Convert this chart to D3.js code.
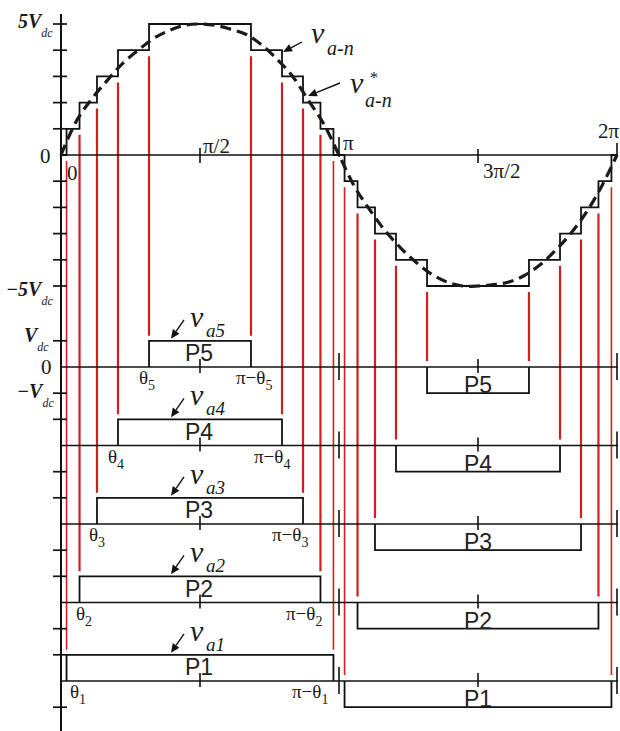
<!DOCTYPE html>
<html>
<head>
<meta charset="utf-8">
<script src="https://cdn.jsdelivr.net/npm/d3@7"></script>
<style>
  body { margin: 0; background: #fff; }
  svg { display: block; }
  .serif { font-family: "Liberation Serif", "Times New Roman", serif; }
  .sans { font-family: "Liberation Sans", Arial, sans-serif; }
</style>
</head>
<body>
<svg id="chart" width="620" height="731"></svg>
<script>
// ---- data -------------------------------------------------------------
// H-bridge cells of the 11-level cascaded inverter (P1 ... P5)
const cells = [1, 2, 3, 4, 5];
// switching angle of each cell, degrees
const thetaDeg = [3.6, 12.0, 23.3, 36.9, 57.0];
// staircase level reached when each cell switches on, in Vdc
const stepLevels = [1, 2, 3, 4, 5];
// reference phase voltage v*a-n, sampled every 10 degrees, in Vdc
const refAngleDeg = [0, 10, 20, 30, 40, 50, 60, 70, 80, 90, 100, 110, 120,
  130, 140, 150, 160, 170, 180, 190, 200, 210, 220, 230, 240, 250, 260, 270,
  280, 290, 300, 310, 320, 330, 340, 350, 360];
const refValue = [0, 1.3, 2.15, 2.85, 3.5, 4.0, 4.45, 4.75, 4.95, 5.0, 4.95,
  4.8, 4.6, 4.2, 3.65, 3.0, 2.1, 1.2, 0, -1.2, -2.1, -2.9, -3.55, -4.1, -4.55,
  -4.85, -5.0, -5.0, -4.95, -4.85, -4.6, -4.2, -3.65, -3.0, -2.2, -1.2, 0];
// phase axis ticks
const phaseTickDeg = [90, 180, 270, 360];
const phaseTickLabel = ["π/2", "π", "3π/2", "2π"];

// ---- layout -----------------------------------------------------------
const svg = d3.select("#chart");
const W = 620, H = 731;
const axisX = 61;
const x = d3.scaleLinear().domain([0, 360]).range([axisX, 617]);
const unit = 26.2;                      // pixels per Vdc
const yMain = d3.scaleLinear().domain([-5, 5]).range([155 + 5 * unit, 155 - 5 * unit]);
// baseline of each cell's pulse row, P5 on top
const rowZero = k => 367 + (5 - k) * 78.5;
const yRow = k => d3.scaleLinear().domain([-1, 1]).range([rowZero(k) + unit, rowZero(k) - unit]);

const RED = "#d11f1f";
const INK = "#111";

const gRed = svg.append("g");
const gInk = svg.append("g");
const gTxt = svg.append("g");

// ---- red switching-instant guides --------------------------------------
cells.forEach((k, i) => {
  const th = thetaDeg[i];
  const lv = stepLevels[i];
  const yr = yRow(k);
  // positive half cycle: from the staircase step down to the top of the pulse
  [th, 180 - th].forEach(a => {
    gRed.append("line")
      .attr("x1", x(a)).attr("x2", x(a))
      .attr("y1", yMain(lv - 1) + 6).attr("y2", yr(1) - 5)
      .attr("stroke", RED).attr("stroke-width", i === 0 ? 1.6 : 2.2);
  });
  // negative half cycle: from the staircase step down to the row baseline
  [180 + th, 360 - th].forEach(a => {
    gRed.append("line")
      .attr("x1", x(a)).attr("x2", x(a))
      .attr("y1", yMain(-lv) + 6).attr("y2", yr(0) - 6)
      .attr("stroke", RED).attr("stroke-width", i === 0 ? 1.6 : 2.2);
  });
});

// ---- axes ---------------------------------------------------------------
// vertical axis
gInk.append("line")
  .attr("x1", axisX).attr("x2", axisX).attr("y1", 14).attr("y2", H)
  .attr("stroke", INK).attr("stroke-width", 2);

// main phase axis
gInk.append("line")
  .attr("x1", axisX).attr("x2", x(360) + 1).attr("y1", yMain(0)).attr("y2", yMain(0))
  .attr("stroke", INK).attr("stroke-width", 1.7);
const mainTickExt = { 90: [-7, 8], 180: [-18, 2], 270: [-6, 8], 360: [-12, 2] };
phaseTickDeg.forEach(a => {
  const e = mainTickExt[a];
  gInk.append("line")
    .attr("x1", x(a)).attr("x2", x(a))
    .attr("y1", yMain(0) + e[0]).attr("y2", yMain(0) + e[1])
    .attr("stroke", INK).attr("stroke-width", 1.6);
});
// level ticks of the phase voltage
d3.range(-5, 6).filter(v => v !== 0).forEach(v => {
  gInk.append("line")
    .attr("x1", 53).attr("x2", 67).attr("y1", yMain(v)).attr("y2", yMain(v))
    .attr("stroke", INK).attr("stroke-width", 1.7);
});

// rows of the individual cells
cells.forEach(k => {
  const yr = yRow(k);
  gInk.append("line")
    .attr("x1", axisX).attr("x2", x(360) + 1).attr("y1", yr(0)).attr("y2", yr(0))
    .attr("stroke", INK).attr("stroke-width", 1.7);
  [1, -1].forEach(v => {
    gInk.append("line")
      .attr("x1", 53).attr("x2", 67).attr("y1", yr(v)).attr("y2", yr(v))
      .attr("stroke", INK).attr("stroke-width", 1.7);
  });
  phaseTickDeg.forEach(a => {
    const tall = (a === 180 || a === 360);
    gInk.append("line")
      .attr("x1", x(a)).attr("x2", x(a))
      .attr("y1", yr(0) - (tall ? 14 : 8)).attr("y2", yr(0) + (tall ? 13 : 6))
      .attr("stroke", INK).attr("stroke-width", 1.6);
  });
});

// ---- waveforms --------------------------------------------------------
// staircase output v a-n built from the switching angles
const stairPts = [[0, 0]];
cells.forEach((k, i) => stairPts.push([thetaDeg[i], stepLevels[i]]));
for (let i = cells.length - 1; i >= 0; i--) stairPts.push([180 - thetaDeg[i], stepLevels[i] - 1]);
cells.forEach((k, i) => stairPts.push([180 + thetaDeg[i], -stepLevels[i]]));
for (let i = cells.length - 1; i >= 0; i--) stairPts.push([360 - thetaDeg[i], -(stepLevels[i] - 1)]);
stairPts.push([360, 0]);

gInk.append("path")
  .datum(stairPts)
  .attr("d", d3.line().x(d => x(d[0])).y(d => yMain(d[1])).curve(d3.curveStepAfter))
  .attr("fill", "none").attr("stroke", INK).attr("stroke-width", 1.8);

// reference sinusoid, dashed
gInk.append("path")
  .datum(refAngleDeg.map((a, i) => [a, refValue[i]]))
  .attr("d", d3.line().x(d => x(d[0])).y(d => yMain(d[1])).curve(d3.curveCatmullRom))
  .attr("fill", "none").attr("stroke", "#1a1a1a").attr("stroke-width", 3.2)
  .attr("stroke-dasharray", "11,6");

// pulse of each cell
cells.forEach((k, i) => {
  const th = thetaDeg[i];
  const yr = yRow(k);
  const pulse = [[th, 1], [180 - th, 0], [180 + th, -1], [360 - th, 0]];
  [[pulse[0], pulse[1]], [pulse[2], pulse[3]]].forEach(([on, off]) => {
    const pts = [[on[0], 0], [on[0], on[1]], [off[0], on[1]], [off[0], 0]];
    gInk.append("path")
      .datum(pts)
      .attr("d", d3.line().x(d => x(d[0])).y(d => yr(d[1])))
      .attr("fill", "none").attr("stroke", INK).attr("stroke-width", 1.8);
  });
  gTxt.append("text").attr("class", "sans")
    .attr("x", x(90) - 1).attr("y", yr(0) - 6)
    .attr("text-anchor", "middle").attr("font-size", 23).attr("fill", "#222")
    .text("P" + k);
  gTxt.append("text").attr("class", "sans")
    .attr("x", x(270)).attr("y", yr(-1) + 0)
    .attr("text-anchor", "middle").attr("font-size", 23).attr("fill", "#222")
    .text("P" + k);
});

// ---- arrows & annotation ------------------------------------------------
function arrow(x1, y1, x2, y2) {
  const ang = Math.atan2(y2 - y1, x2 - x1);
  const L = 9, Wd = 4;
  const bx = x2 - L * Math.cos(ang), by = y2 - L * Math.sin(ang);
  gInk.append("line").attr("x1", x1).attr("y1", y1).attr("x2", bx).attr("y2", by)
    .attr("stroke", INK).attr("stroke-width", 1.4);
  gInk.append("path")
    .attr("d", `M${x2},${y2}L${bx + Wd * Math.sin(ang)},${by - Wd * Math.cos(ang)}` +
               `L${bx - Wd * Math.sin(ang)},${by + Wd * Math.cos(ang)}Z`)
    .attr("fill", INK);
}

function txt(xp, yp, s, size, opts = {}) {
  return gTxt.append("text").attr("class", opts.sans ? "sans" : "serif")
    .attr("x", xp).attr("y", yp)
    .attr("font-size", size)
    .attr("font-style", opts.italic ? "italic" : null)
    .attr("font-weight", opts.bold ? "bold" : null)
    .attr("text-anchor", opts.anchor || "start")
    .attr("fill", opts.fill || "#1a1a1a")
    .text(s);
}

// v a-n and v* a-n
arrow(302, 42, 283, 52);
txt(311, 43, "v", 30, { italic: true });
txt(327, 55, "a-n", 20, { italic: true });
arrow(340, 83, 308, 96);
txt(350, 93, "v", 30, { italic: true });
txt(370, 83, "*", 16);
txt(365, 107, "a-n", 20, { italic: true });

// cell voltage labels
cells.forEach(k => {
  const top = yRow(k)(1);
  arrow(184, top - 21, 171, top - 2);
  txt(190, top - 14, "v", 30, { italic: true });
  txt(206, top - 4, "a" + k, 19, { italic: true });
});

// switching-angle labels under each row
const thetaLabelX = [70, 76, 89, 108, 139];
const piThetaLabelX = [292, 286, 272, 254, 236];
cells.forEach((k, i) => {
  const yb = yRow(k)(0) + 17;
  const t1 = txt(thetaLabelX[i], yb, "θ", 19);
  t1.append("tspan").attr("font-size", 14).attr("dy", 6).text(k);
  const t2 = txt(piThetaLabelX[i], yb, "π−θ", 19);
  t2.append("tspan").attr("font-size", 14).attr("dy", 6).text(k);
});

// phase axis labels
txt(x(90) + 3, 153, phaseTickLabel[0], 21);
txt(x(180) + 4, 150, phaseTickLabel[1], 21);
txt(x(270) + 5, 178, phaseTickLabel[2], 21);
txt(x(360) - 19, 138, phaseTickLabel[3], 21);
txt(40, 163, "0", 21);
txt(67, 180, "0", 21);

// level labels on the vertical axis
function vdc(xp, yp, pre) {
  const t = txt(xp, yp, pre + "V", 20, { italic: true, bold: true, anchor: "start" });
  t.append("tspan").attr("font-size", 12).attr("dy", 9).attr("font-weight", "normal").text("dc");
}
vdc(18, 28, "5");
vdc(6, 296, "−5");
vdc(24, 342, "");
txt(41, 374, "0", 21);
vdc(17, 398, "−");
</script>
</body>
</html>
